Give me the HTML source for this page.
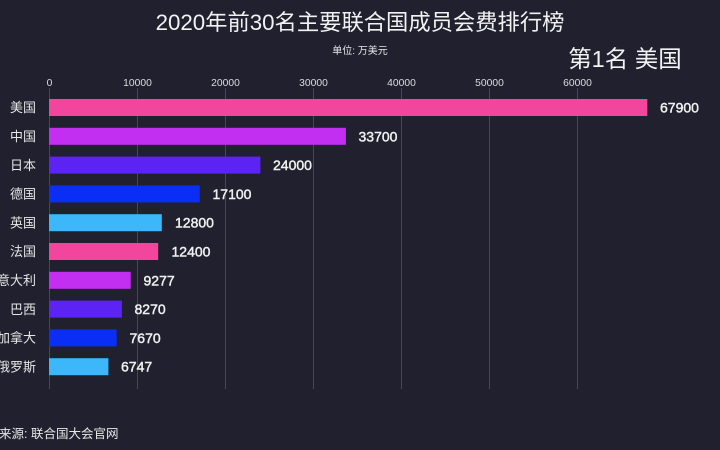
<!DOCTYPE html>
<html><head><meta charset="utf-8"><style>
html,body{margin:0;padding:0;background:#21202f;}
svg{display:block;}
text{font-family:"Liberation Sans","Noto Sans CJK SC",sans-serif;}
</style></head><body>
<svg width="720" height="450" viewBox="0 0 720 450" xmlns="http://www.w3.org/2000/svg">
<rect width="720" height="450" fill="#21202f"/>
<text x="360" y="30" font-size="22.3" fill="#f2f2f2" text-anchor="middle">2020年前30名主要联合国成员会费排行榜</text>
<text x="360" y="54" font-size="10" fill="#e6e6e6" text-anchor="middle">单位: 万美元</text>
<text x="625" y="67" font-size="23.5" fill="#f2f2f2" text-anchor="middle">第1名 美国</text>
<g stroke="#47475c" stroke-width="1">
<line x1="49.5" y1="88" x2="49.5" y2="389"/>
<line x1="137.5" y1="88" x2="137.5" y2="389"/>
<line x1="225.5" y1="88" x2="225.5" y2="389"/>
<line x1="313.5" y1="88" x2="313.5" y2="389"/>
<line x1="401.5" y1="88" x2="401.5" y2="389"/>
<line x1="489.5" y1="88" x2="489.5" y2="389"/>
<line x1="577.5" y1="88" x2="577.5" y2="389"/>
</g>
<g font-size="10.3" fill="#dcdcdc" text-anchor="middle">
<text x="49.5" y="86">0</text>
<text x="137.5" y="86">10000</text>
<text x="225.5" y="86">20000</text>
<text x="313.5" y="86">30000</text>
<text x="401.5" y="86">40000</text>
<text x="489.5" y="86">50000</text>
<text x="577.5" y="86">60000</text>
</g>
<g>
<rect x="49" y="99" width="598.3" height="17" fill="#f2469c"/>
<rect x="49" y="127.8" width="296.9" height="17" fill="#c22ff0"/>
<rect x="49" y="156.6" width="211.4" height="17" fill="#5b24f2"/>
<rect x="49" y="185.4" width="150.7" height="17" fill="#0a2ef5"/>
<rect x="49" y="214.2" width="112.8" height="17" fill="#3cb7fa"/>
<rect x="49" y="243" width="109.2" height="17" fill="#f2469c"/>
<rect x="49" y="271.8" width="81.7" height="17" fill="#c22ff0"/>
<rect x="49" y="300.6" width="72.9" height="17" fill="#5b24f2"/>
<rect x="49" y="329.4" width="67.6" height="17" fill="#0a2ef5"/>
<rect x="49" y="358.2" width="59.4" height="17" fill="#3cb7fa"/>
</g>
<g font-size="13" fill="#e6e6e6" text-anchor="end">
<text x="36" y="112">美国</text>
<text x="36" y="141">中国</text>
<text x="36" y="170">日本</text>
<text x="36" y="198.5">德国</text>
<text x="36" y="227.5">英国</text>
<text x="36" y="256">法国</text>
<text x="36" y="285">意大利</text>
<text x="36" y="314">巴西</text>
<text x="36" y="342.5">加拿大</text>
<text x="36" y="371.5">俄罗斯</text>
</g>
<g font-size="14" fill="#f0f0f0" stroke="#f0f0f0" stroke-width="0.45">
<text x="660" y="112.5">67900</text>
<text x="358.5" y="141.3">33700</text>
<text x="273" y="170.1">24000</text>
<text x="212.5" y="198.9">17100</text>
<text x="175" y="227.7">12800</text>
<text x="171.5" y="256.5">12400</text>
<text x="143.5" y="285.3">9277</text>
<text x="134.5" y="314.1">8270</text>
<text x="129.5" y="342.9">7670</text>
<text x="121" y="371.7">6747</text>
</g>
<text x="-1" y="438" font-size="12.5" fill="#e6e6e6">来源: 联合国大会官网</text>
</svg>
</body></html>
